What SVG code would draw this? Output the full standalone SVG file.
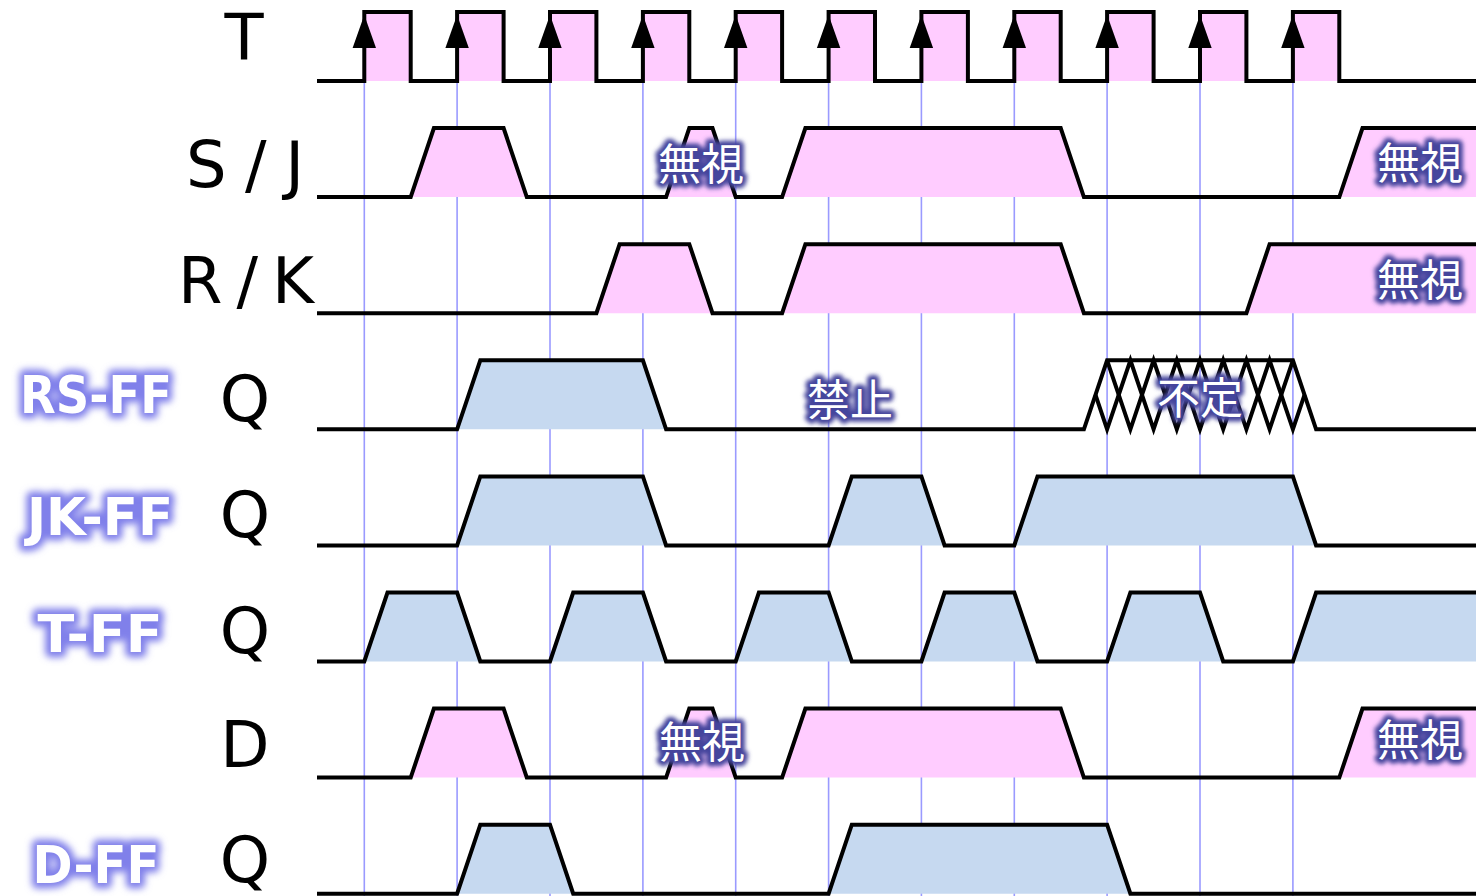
<svg xmlns="http://www.w3.org/2000/svg" width="1476" height="896" viewBox="0 0 1476 896">
<defs>
<style>
.grid{stroke:#9a9aff;stroke-width:1.6}
.wave{fill:none;stroke:#000;stroke-width:4;stroke-linejoin:miter}
.pink{fill:#ffccff}
.blue{fill:#c6d9f0}
.sig{font-family:"DejaVu Sans",Verdana,sans-serif;font-size:64px;fill:#000}
.ff{font-family:"DejaVu Sans","Liberation Sans",sans-serif;font-weight:bold;font-size:52px;text-anchor:middle}
.ffglow{fill:#7878e6;stroke:#8080ea;stroke-width:11;stroke-linejoin:round;filter:url(#blurA)}
.fftxt{fill:#fff}
.jp{font-family:"Noto Sans CJK JP","Noto Sans CJK SC",sans-serif;font-size:43px;text-anchor:middle}
.jpglow{fill:#45459c;stroke:#45459c;stroke-width:9;stroke-linejoin:round;filter:url(#blurB)}
.jptxt{fill:#fff}
</style>
<filter id="blurA" x="-20%" y="-40%" width="140%" height="180%"><feGaussianBlur stdDeviation="3.5"/></filter>
<filter id="blurB" x="-20%" y="-40%" width="140%" height="180%"><feGaussianBlur stdDeviation="2"/></filter>
</defs>
<rect width="1476" height="896" fill="#fff"/>

<g id="grid">
<line class="grid" x1="364.3" y1="12" x2="364.3" y2="896"/>
<line class="grid" x1="457.1" y1="12" x2="457.1" y2="896"/>
<line class="grid" x1="550" y1="12" x2="550" y2="896"/>
<line class="grid" x1="642.9" y1="12" x2="642.9" y2="896"/>
<line class="grid" x1="735.7" y1="12" x2="735.7" y2="896"/>
<line class="grid" x1="828.6" y1="12" x2="828.6" y2="896"/>
<line class="grid" x1="921.4" y1="12" x2="921.4" y2="896"/>
<line class="grid" x1="1014.3" y1="12" x2="1014.3" y2="896"/>
<line class="grid" x1="1107.1" y1="12" x2="1107.1" y2="896"/>
<line class="grid" x1="1200" y1="12" x2="1200" y2="896"/>
<line class="grid" x1="1292.9" y1="12" x2="1292.9" y2="896"/>
</g>

<g id="fills">
<rect class="pink" x="364.3" y="12" width="46.4" height="69"/>
<rect class="pink" x="457.1" y="12" width="46.4" height="69"/>
<rect class="pink" x="550" y="12" width="46.4" height="69"/>
<rect class="pink" x="642.9" y="12" width="46.4" height="69"/>
<rect class="pink" x="735.7" y="12" width="46.4" height="69"/>
<rect class="pink" x="828.6" y="12" width="46.4" height="69"/>
<rect class="pink" x="921.4" y="12" width="46.4" height="69"/>
<rect class="pink" x="1014.3" y="12" width="46.4" height="69"/>
<rect class="pink" x="1107.1" y="12" width="46.4" height="69"/>
<rect class="pink" x="1200" y="12" width="46.4" height="69"/>
<rect class="pink" x="1292.9" y="12" width="46.4" height="69"/>
<polygon class="pink" points="410.7,197.1 433.9,128.1 503.6,128.1 526.8,197.1"/>
<polygon class="pink" points="666.1,197.1 689.3,128.1 712.5,128.1 735.7,197.1"/>
<polygon class="pink" points="782.1,197.1 805.4,128.1 1060.7,128.1 1083.9,197.1"/>
<polygon class="pink" points="1339.3,197.1 1362.5,128.1 1476,128.1 1476,197.1"/>
<polygon class="pink" points="596.4,313.2 619.6,244.2 689.3,244.2 712.5,313.2"/>
<polygon class="pink" points="782.1,313.2 805.4,244.2 1060.7,244.2 1083.9,313.2"/>
<polygon class="pink" points="1246.4,313.2 1269.6,244.2 1476,244.2 1476,313.2"/>
<polygon class="blue" points="457.1,429.3 480.3,360.3 642.9,360.3 666.1,429.3"/>
<polygon class="blue" points="457.1,545.4 480.3,476.4 642.9,476.4 666.1,545.4"/>
<polygon class="blue" points="828.6,545.4 851.8,476.4 921.4,476.4 944.6,545.4"/>
<polygon class="blue" points="1014.3,545.4 1037.5,476.4 1292.9,476.4 1316.1,545.4"/>
<polygon class="blue" points="364.3,661.5 387.5,592.5 457.1,592.5 480.3,661.5"/>
<polygon class="blue" points="550,661.5 573.2,592.5 642.9,592.5 666.1,661.5"/>
<polygon class="blue" points="735.7,661.5 758.9,592.5 828.6,592.5 851.8,661.5"/>
<polygon class="blue" points="921.4,661.5 944.6,592.5 1014.3,592.5 1037.5,661.5"/>
<polygon class="blue" points="1107.1,661.5 1130.4,592.5 1200,592.5 1223.2,661.5"/>
<polygon class="blue" points="1292.9,661.5 1316.1,592.5 1476,592.5 1476,661.5"/>
<polygon class="pink" points="410.7,777.6 433.9,708.6 503.6,708.6 526.8,777.6"/>
<polygon class="pink" points="666.1,777.6 689.3,708.6 712.5,708.6 735.7,777.6"/>
<polygon class="pink" points="782.1,777.6 805.4,708.6 1060.7,708.6 1083.9,777.6"/>
<polygon class="pink" points="1339.3,777.6 1362.5,708.6 1476,708.6 1476,777.6"/>
<polygon class="blue" points="457.1,893.7 480.3,824.7 550,824.7 573.2,893.7"/>
<polygon class="blue" points="828.6,893.7 851.8,824.7 1107.1,824.7 1130.4,893.7"/>
</g>

<g id="connectors">
<path id="wave-T" class="wave" d="M317,81 H364.3 V12 H410.7 V81 H457.1 V12 H503.6 V81 H550 V12 H596.4 V81 H642.9 V12 H689.3 V81 H735.7 V12 H782.1 V81 H828.6 V12 H875 V81 H921.4 V12 H967.9 V81 H1014.3 V12 H1060.7 V81 H1107.1 V12 H1153.6 V81 H1200 V12 H1246.4 V81 H1292.9 V12 H1339.3 V81 H1476"/>
<g id="clock-arrows" fill="#000">
<polygon points="364.3,15 376,48 352.6,48"/>
<polygon points="457.1,15 468.8,48 445.4,48"/>
<polygon points="550,15 561.7,48 538.3,48"/>
<polygon points="642.9,15 654.6,48 631.2,48"/>
<polygon points="735.7,15 747.4,48 724,48"/>
<polygon points="828.6,15 840.3,48 816.9,48"/>
<polygon points="921.4,15 933.1,48 909.7,48"/>
<polygon points="1014.3,15 1026,48 1002.6,48"/>
<polygon points="1107.1,15 1118.8,48 1095.4,48"/>
<polygon points="1200,15 1211.7,48 1188.3,48"/>
<polygon points="1292.9,15 1304.6,48 1281.2,48"/>
</g>
<path id="wave-SJ" class="wave" d="M317,197.1 L410.7,197.1 L433.9,128.1 L503.6,128.1 L526.8,197.1 L666.1,197.1 L689.3,128.1 L712.5,128.1 L735.7,197.1 L782.1,197.1 L805.4,128.1 L1060.7,128.1 L1083.9,197.1 L1339.3,197.1 L1362.5,128.1 L1476,128.1"/>
<path id="wave-RK" class="wave" d="M317,313.2 L596.4,313.2 L619.6,244.2 L689.3,244.2 L712.5,313.2 L782.1,313.2 L805.4,244.2 L1060.7,244.2 L1083.9,313.2 L1246.4,313.2 L1269.6,244.2 L1476,244.2"/>
<path id="wave-RSQ" class="wave" d="M317,429.3 L457.1,429.3 L480.3,360.3 L642.9,360.3 L666.1,429.3 L1083.9,429.3 L1107.1,360.3 L1292.9,360.3 L1316.1,429.3 L1476,429.3"/>
<path id="hatch-a" class="wave" stroke-width="3.5" d="M1107.1,360.3 L1130.4,429.3 L1153.6,360.3 L1176.8,429.3 L1200,360.3 L1223.2,429.3 L1246.4,360.3 L1269.6,429.3 L1292.9,360.3"/>
<path id="hatch-b" class="wave" stroke-width="3.5" d="M1095.5,394.8 L1107.1,429.3 L1130.4,360.3 L1153.6,429.3 L1176.8,360.3 L1200,429.3 L1223.2,360.3 L1246.4,429.3 L1269.6,360.3 L1292.9,429.3 L1304.5,394.8"/>
<path id="wave-JKQ" class="wave" d="M317,545.4 L457.1,545.4 L480.3,476.4 L642.9,476.4 L666.1,545.4 L828.6,545.4 L851.8,476.4 L921.4,476.4 L944.6,545.4 L1014.3,545.4 L1037.5,476.4 L1292.9,476.4 L1316.1,545.4 L1476,545.4"/>
<path id="wave-TQ" class="wave" d="M317,661.5 L364.3,661.5 L387.5,592.5 L457.1,592.5 L480.3,661.5 L550,661.5 L573.2,592.5 L642.9,592.5 L666.1,661.5 L735.7,661.5 L758.9,592.5 L828.6,592.5 L851.8,661.5 L921.4,661.5 L944.6,592.5 L1014.3,592.5 L1037.5,661.5 L1107.1,661.5 L1130.4,592.5 L1200,592.5 L1223.2,661.5 L1292.9,661.5 L1316.1,592.5 L1476,592.5"/>
<path id="wave-D" class="wave" d="M317,777.6 L410.7,777.6 L433.9,708.6 L503.6,708.6 L526.8,777.6 L666.1,777.6 L689.3,708.6 L712.5,708.6 L735.7,777.6 L782.1,777.6 L805.4,708.6 L1060.7,708.6 L1083.9,777.6 L1339.3,777.6 L1362.5,708.6 L1476,708.6"/>
<path id="wave-DQ" class="wave" d="M317,893.7 L457.1,893.7 L480.3,824.7 L550,824.7 L573.2,893.7 L828.6,893.7 L851.8,824.7 L1107.1,824.7 L1130.4,893.7 L1476,893.7"/>
</g>

<g id="signal-labels">
<text id="lbl-T" class="sig" x="244" y="60" text-anchor="middle">T</text>
<text id="lbl-SJ" class="sig" x="186" y="187" textLength="118" lengthAdjust="spacing">S/J</text>
<text id="lbl-RK" class="sig" x="178" y="303" textLength="136" lengthAdjust="spacing">R/K</text>
<text class="sig" x="245" y="421" text-anchor="middle">Q</text>
<text class="sig" x="245" y="537" text-anchor="middle">Q</text>
<text class="sig" x="245" y="653" text-anchor="middle">Q</text>
<text class="sig" x="245" y="767" text-anchor="middle">D</text>
<text class="sig" x="245" y="882" text-anchor="middle">Q</text>
</g>

<g id="ff-labels" class="ff">
<g id="rs-ff"><text class="ffglow" x="96" y="413" textLength="152" lengthAdjust="spacingAndGlyphs">RS-FF</text><text class="fftxt" x="96" y="413" textLength="152" lengthAdjust="spacingAndGlyphs">RS-FF</text></g>
<g id="jk-ff"><text class="ffglow" x="100" y="535" textLength="146" lengthAdjust="spacingAndGlyphs">JK-FF</text><text class="fftxt" x="100" y="535" textLength="146" lengthAdjust="spacingAndGlyphs">JK-FF</text></g>
<g id="t-ff"><text class="ffglow" x="100" y="652" textLength="125" lengthAdjust="spacingAndGlyphs">T-FF</text><text class="fftxt" x="100" y="652" textLength="125" lengthAdjust="spacingAndGlyphs">T-FF</text></g>
<g id="d-ff"><text class="ffglow" x="96" y="883" textLength="127" lengthAdjust="spacingAndGlyphs">D-FF</text><text class="fftxt" x="96" y="883" textLength="127" lengthAdjust="spacingAndGlyphs">D-FF</text></g>
</g>

<g id="notes" class="jp">
<g id="ignore-sj"><text class="jpglow" x="701" y="180">無視</text><text class="jptxt" x="701" y="180">無視</text></g>
<g id="ignore-sj2"><text class="jpglow" x="1420" y="179">無視</text><text class="jptxt" x="1420" y="179">無視</text></g>
<g id="ignore-rk"><text class="jpglow" x="1420" y="296">無視</text><text class="jptxt" x="1420" y="296">無視</text></g>
<g id="forbid"><text class="jpglow" x="850" y="416">禁止</text><text class="jptxt" x="850" y="416">禁止</text></g>
<g id="undef"><text class="jpglow" x="1200" y="414">不定</text><text class="jptxt" x="1200" y="414">不定</text></g>
<g id="ignore-d"><text class="jpglow" x="702" y="758">無視</text><text class="jptxt" x="702" y="758">無視</text></g>
<g id="ignore-d2"><text class="jpglow" x="1420" y="756">無視</text><text class="jptxt" x="1420" y="756">無視</text></g>
</g>
</svg>
